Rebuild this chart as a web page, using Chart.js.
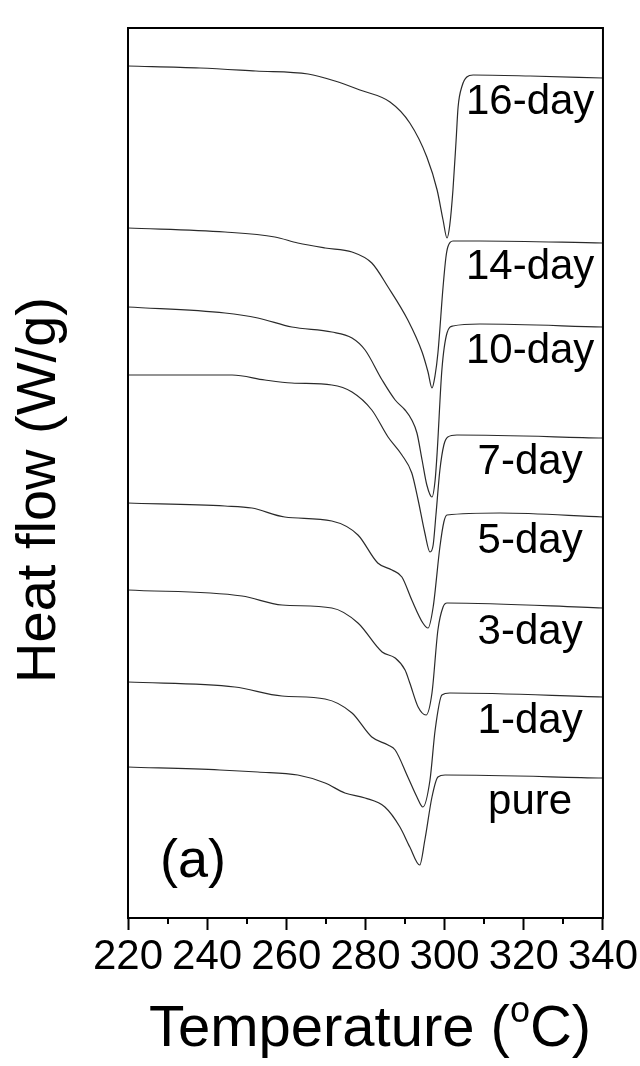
<!DOCTYPE html>
<html>
<head>
<meta charset="utf-8">
<script src="https://cdn.jsdelivr.net/npm/chart.js@4/dist/chart.umd.min.js"></script>
<style>
  html, body { margin: 0; padding: 0; background: #fff; }
  #wrap { width: 640px; height: 1066px; }
</style>
</head>
<body>
<div id="wrap"><canvas id="dscChart" width="640" height="1066"></canvas></div>
<script>
// temperatuur-as (°C)
const tempTicks = [220, 240, 260, 280, 300, 320, 340];
const tempMinor = [230, 250, 270, 290, 310, 330];

// reeksen, van onder naar boven
const seriesNames = ["pure", "1-day", "3-day", "5-day", "7-day", "10-day", "14-day", "16-day"];

// heat flow (gestapeld, a.u.)
const tPure = [220, 243.2, 252.8, 262.9, 269.8, 274.8, 279.9, 284.9, 288.7, 291.2, 293.7, 295.0, 296.8, 298.3, 300.1, 340];
const hfPure = [151, 148, 146, 143, 135, 125, 120, 111, 91, 71, 53, 78, 121, 141, 143, 140];

const t1 = [220, 247.0, 258.9, 269.8, 276.6, 281.6, 285.7, 287.5, 290.7, 293.0, 294.5, 296.3, 297.6, 299.3, 301.3, 340];
const hf1 = [236, 231, 222, 219, 205, 181, 173, 168, 141, 121, 111, 138, 188, 223, 225, 221];

const t3 = [220, 248.8, 258.9, 271.5, 278.1, 284.2, 287.5, 290.0, 291.2, 293.3, 295.3, 296.8, 298.3, 299.6, 300.6, 340];
const hf3 = [328, 322, 313, 310, 295, 266, 260, 248, 235, 211, 203, 225, 288, 311, 315, 310];

const t5 = [220, 244.5, 251.3, 259.6, 271.5, 278.1, 283.1, 286.7, 289.2, 291.7, 294.5, 295.8, 297.1, 298.8, 299.8, 300.6, 314.0, 340];
const hf5 = [415, 412, 410, 401, 397, 383, 355, 348, 341, 318, 295, 290, 311, 371, 396, 403, 405, 401];

const t7 = [220, 246.3, 254.6, 261.4, 271.5, 276.6, 281.6, 285.7, 289.2, 291.7, 293.3, 295.0, 296.3, 297.1, 297.8, 298.8, 299.8, 300.8, 303.1, 340];
const hf7 = [543, 543, 538, 535, 533, 526, 508, 481, 463, 445, 418, 385, 366, 373, 403, 448, 473, 481, 483, 480];

const t10 = [220, 244.5, 252.8, 261.4, 271.5, 276.6, 279.9, 284.2, 287.5, 290.0, 291.7, 293.0, 294.3, 295.5, 296.8, 297.6, 298.1, 299.3, 300.6, 302.1, 308.9, 340];
const hf10 = [611, 605, 600, 591, 586, 580, 568, 538, 518, 508, 498, 485, 458, 433, 421, 438, 465, 548, 585, 592, 594, 591];

const t14 = [220, 244.5, 257.1, 262.9, 269.8, 276.6, 281.6, 285.7, 290.7, 294.3, 295.8, 296.8, 297.6, 298.3, 299.6, 300.3, 300.8, 302.1, 308.9, 340];
const hf14 = [690, 686, 681, 675, 670, 666, 655, 631, 598, 566, 546, 530, 543, 565, 631, 660, 671, 677, 677, 675];

const t16 = [220, 238.2, 252.3, 265.5, 272.3, 278.6, 286.2, 291.2, 295.5, 298.1, 299.6, 300.6, 301.3, 302.1, 302.9, 303.4, 304.4, 305.6, 307.2, 321.6, 340];
const hf16 = [852, 850, 847, 844, 837, 828, 816, 795, 761, 728, 698, 680, 693, 728, 778, 811, 832, 841, 843, 842, 840];

const allT = [tPure, t1, t3, t5, t7, t10, t14, t16];
const allHF = [hfPure, hf1, hf3, hf5, hf7, hf10, hf14, hf16];

const FONT = "'Liberation Sans', Arial, Helvetica, sans-serif";

const datasets = seriesNames.map((name, i) => ({
    label: name,
    data: allT[i].map((t, j) => ({ x: t, y: allHF[i][j] })),
    borderColor: "#2a2a2a",
    borderWidth: 1.2,
    pointRadius: 0,
    fill: false,
    cubicInterpolationMode: "monotone"
}));

// kader, kleine streepjes, titels en labels
const decor = {
    id: "decor",
    afterDraw(chart) {
        const ctx = chart.ctx;
        const a = chart.chartArea;
        const xs = chart.scales.x;
        const ys = chart.scales.y;
        ctx.save();
        ctx.strokeStyle = "#000";
        ctx.lineWidth = 2;
        ctx.strokeRect(a.left, a.top, a.right - a.left, a.bottom - a.top);

        // minor ticks
        ctx.beginPath();
        tempMinor.forEach(v => {
            const px = Math.round(xs.getPixelForValue(v));
            ctx.moveTo(px, a.bottom);
            ctx.lineTo(px, a.bottom + 6);
        });
        ctx.stroke();

        ctx.fillStyle = "#000";

        // labels bij de curves
        ctx.font = "42px " + FONT;
        ctx.textAlign = "center";
        ctx.textBaseline = "alphabetic";
        seriesNames.forEach((name, i) => {
            const last = allHF[i][allHF[i].length - 1];
            ctx.fillText(name, xs.getPixelForValue(321.6), ys.getPixelForValue(last) + 36);
        });

        // (a)
        ctx.font = "54px " + FONT;
        ctx.textAlign = "left";
        ctx.fillText("(a)", a.left + 32, a.bottom - 41);

        // y titel
        ctx.save();
        ctx.translate(55, 490);
        ctx.rotate(-Math.PI / 2);
        ctx.font = "56px " + FONT;
        ctx.textAlign = "center";
        ctx.fillText("Heat flow (W/g)", 0, 0);
        ctx.restore();

        // x titel met superscript o
        const big = "58px " + FONT;
        const small = "36px " + FONT;
        const p1 = "Temperature (", p2 = "o", p3 = "C)";
        ctx.font = big;
        const w1 = ctx.measureText(p1).width, w3 = ctx.measureText(p3).width;
        ctx.font = small;
        const w2 = ctx.measureText(p2).width;
        let x = 370 - (w1 + w2 + w3) / 2;
        const base = 1046;
        ctx.textAlign = "left";
        ctx.font = big;
        ctx.fillText(p1, x, base);
        x += w1;
        ctx.font = small;
        ctx.fillText(p2, x, base - 24);
        x += w2;
        ctx.font = big;
        ctx.fillText(p3, x, base);
        ctx.restore();
    }
};

new Chart(document.getElementById("dscChart").getContext("2d"), {
    type: "line",
    data: { datasets: datasets },
    options: {
        responsive: false,
        animation: false,
        layout: { padding: { left: 128, top: 28, right: 37, bottom: 0 } },
        plugins: { legend: { display: false }, tooltip: { enabled: false } },
        scales: {
            x: {
                type: "linear",
                min: 220,
                max: 340,
                afterBuildTicks: scale => { scale.ticks = tempTicks.map(v => ({ value: v })); },
                afterFit: scale => { scale.height = 148; },
                grid: { drawOnChartArea: false, tickLength: 12, tickColor: "#000", tickWidth: 2 },
                border: { color: "#000", width: 2 },
                ticks: {
                    autoSkip: false,
                    maxRotation: 0,
                    padding: 2,
                    color: "#000",
                    font: { family: FONT, size: 42 }
                }
            },
            y: {
                display: false,
                min: 0,
                max: 890
            }
        }
    },
    plugins: [decor]
});
</script>
</body>
</html>
